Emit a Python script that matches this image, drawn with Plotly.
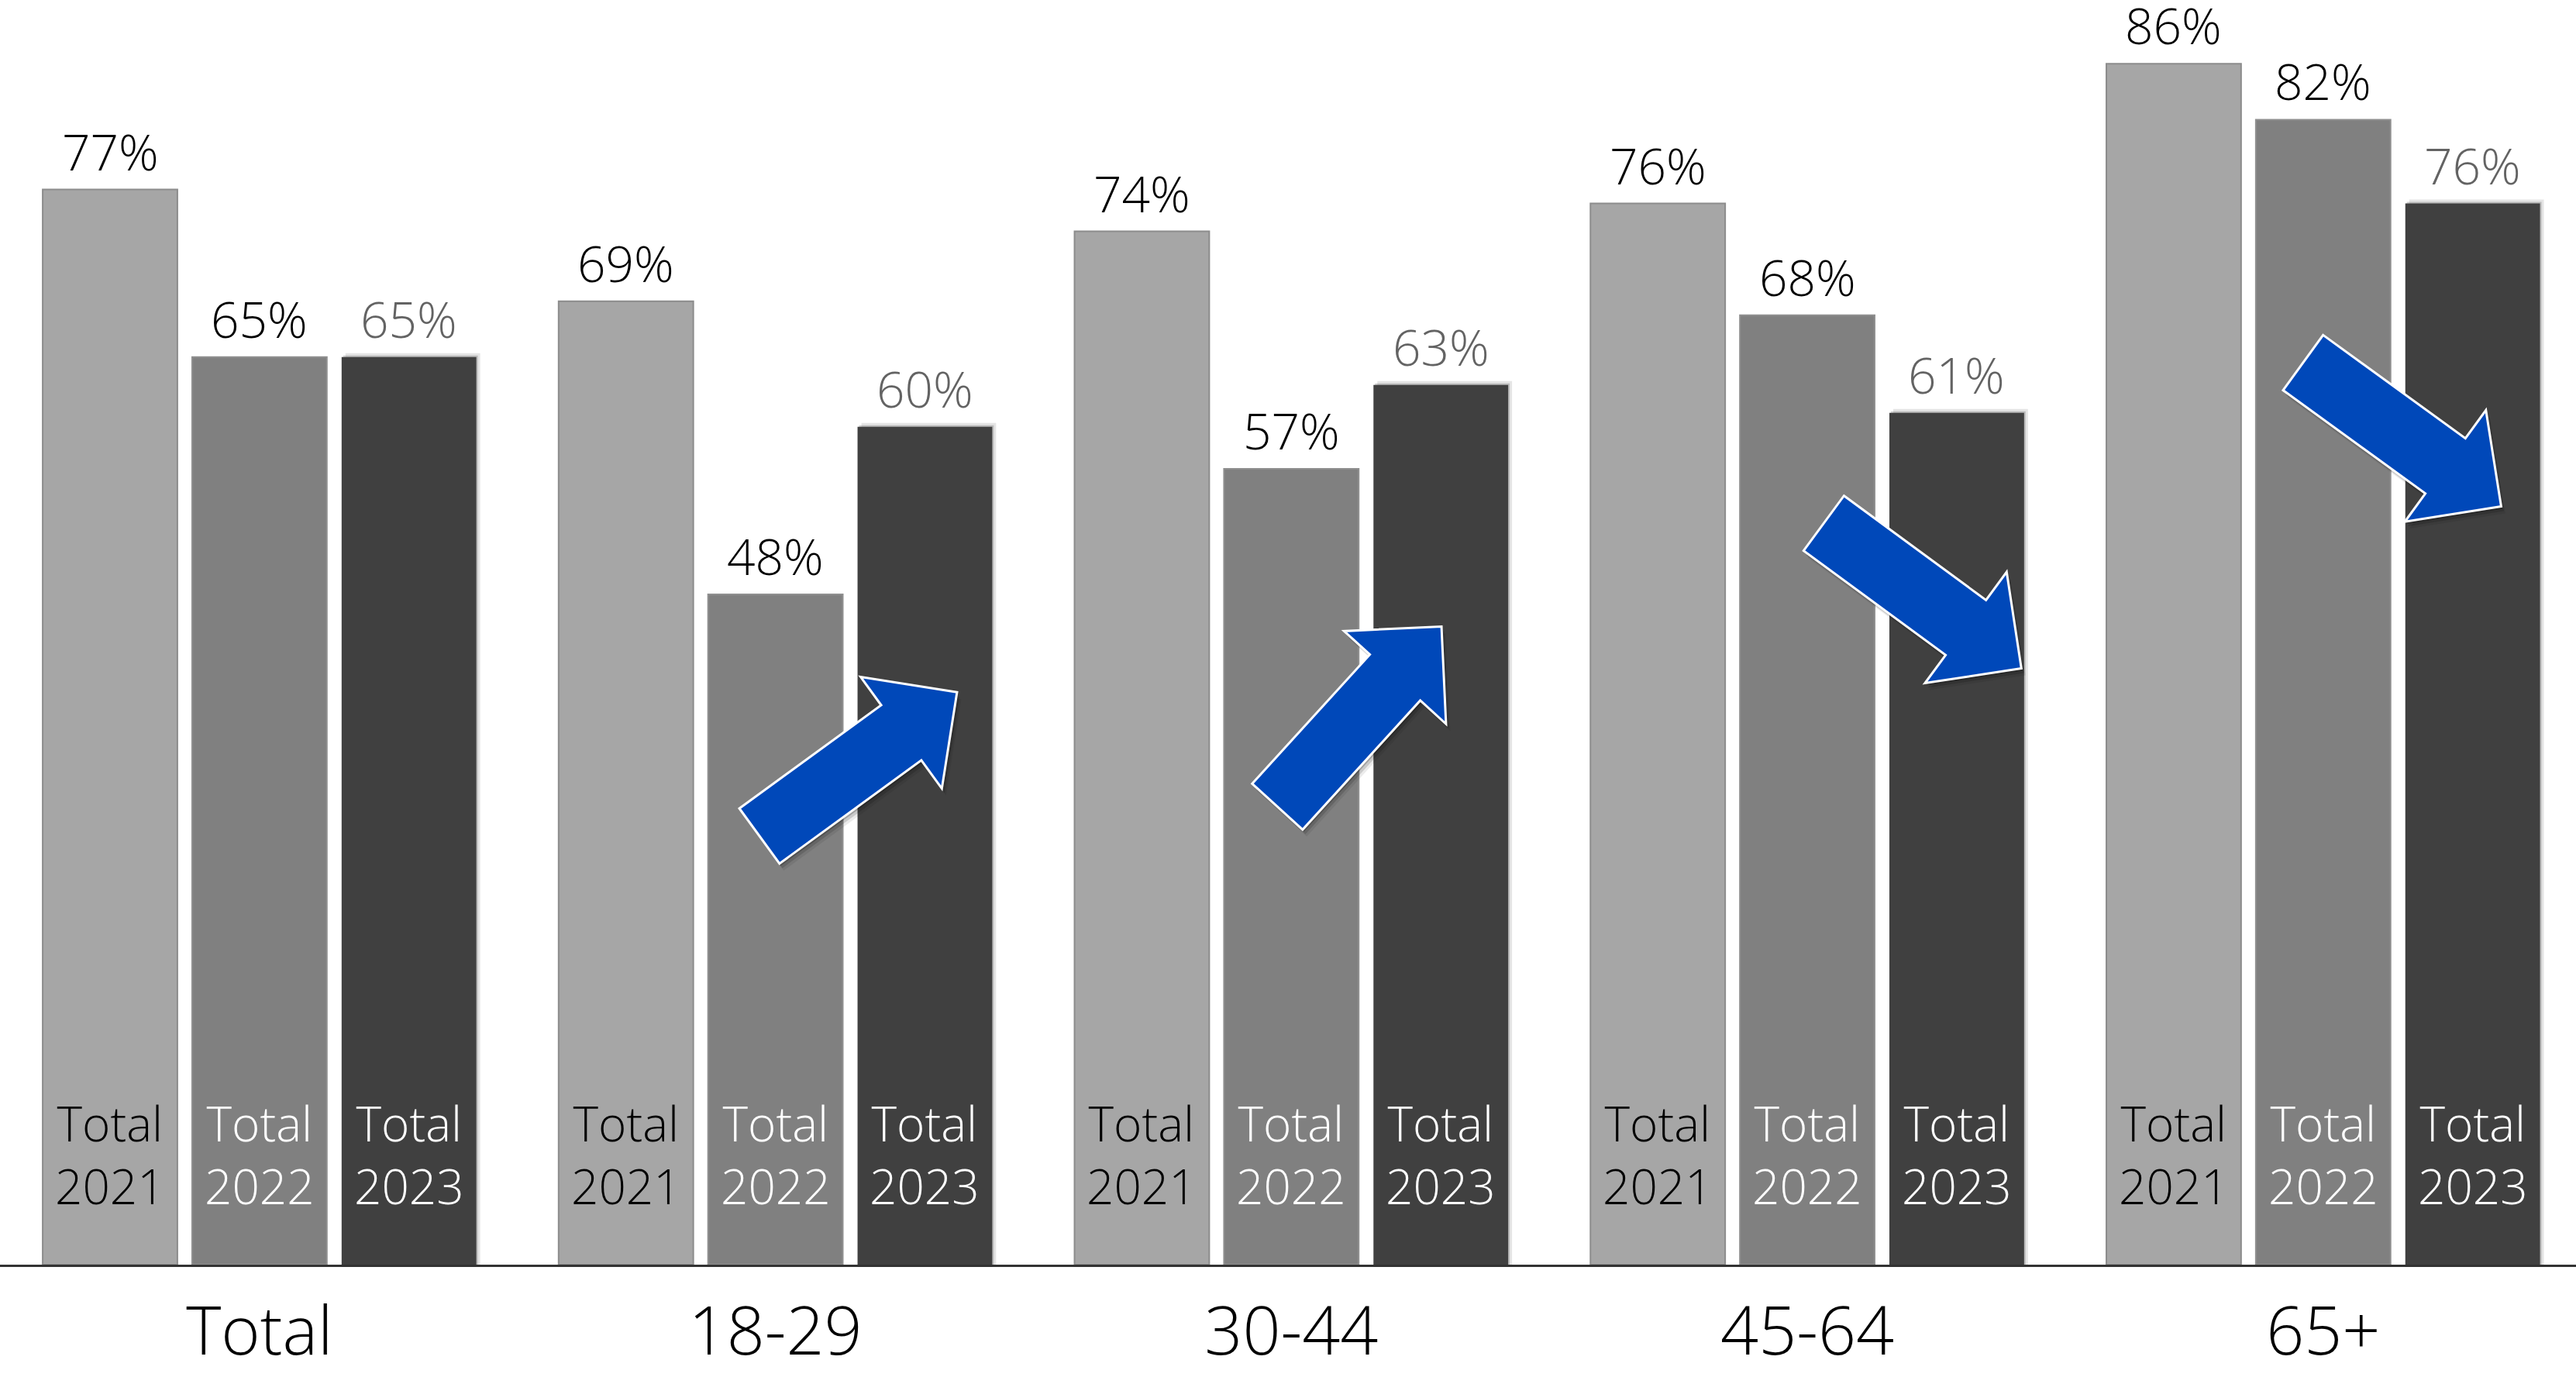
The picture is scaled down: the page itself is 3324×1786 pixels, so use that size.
import plotly.graph_objects as go

# ---- data -------------------------------------------------------------
groups = ["Total", "18-29", "30-44", "45-64", "65+"]
series_names = ["Total 2021", "Total 2022", "Total 2023"]
values_2021 = [77, 69, 74, 76, 86]
values_2022 = [65, 48, 57, 68, 82]
values_2023 = [65, 60, 63, 61, 76]
series_values = [values_2021, values_2022, values_2023]

# ---- styling ----------------------------------------------------------
W, H = 3324, 1786
MARGIN_B = 154
X_RANGE = [-0.503, 4.490]
Y_RANGE = [0, 90.57]
PX_X = W / (X_RANGE[1] - X_RANGE[0])
PX_Y = (H - MARGIN_B) / (Y_RANGE[1] - Y_RANGE[0])

FONT = "Open Sans, Noto Sans, DejaVu Sans, sans-serif"
BAR_W = 0.2611
BAR_STEP = 0.2897
FILLS = ["#a6a6a6", "#808080", "#404040"]
OUTLINES = ["#8c8c8c", "#8f8f8f", "#404040"]
NAME_COLORS = ["#000000", "#ffffff", "#ffffff"]
VALUE_COLORS = ["#000000", "#000000", "#636363"]
ARROW_BLUE = "#0048b9"

# trend arrows: (tail centre, tip) in axis units
ARROWS = [
    ((0.969, 30.7), (1.352, 41.0)),
    ((1.973, 32.8), (2.291, 45.7)),
    ((3.032, 53.1), (3.415, 42.7)),
    ((3.961, 64.6), (4.345, 54.3)),
]
SHAFT_PX, HEAD_W_PX, HEAD_L_PX = 88, 178, 89

xs = list(range(len(groups)))

fig = go.Figure()
shapes = []
annotations = []

for i, (name, vals) in enumerate(zip(series_names, series_values)):
    centre = (i - 1) * BAR_STEP
    fig.add_trace(go.Bar(
        x=xs, y=vals, name=name,
        width=BAR_W, offset=centre - BAR_W / 2,
        marker=dict(color=FILLS[i], line=dict(color=OUTLINES[i], width=2 if i < 2 else 0)),
        showlegend=False, hoverinfo="skip",
    ))
    for g, v in zip(xs, vals):
        # value label above each bar
        annotations.append(dict(
            x=g + centre, y=v, xref="x", yref="y", text=f"{v}%",
            showarrow=False, yanchor="bottom", yshift=4,
            font=dict(family=FONT, size=64, color=VALUE_COLORS[i], weight=300),
        ))
        # series name inside the bar
        annotations.append(dict(
            x=g + centre, y=0, xref="x", yref="y",
            text=name.replace(" ", "<br>"),
            showarrow=False, yanchor="bottom", yshift=58,
            font=dict(family=FONT, size=62, color=NAME_COLORS[i], weight=300),
        ))
        if i == 2:
            # soft drop shadow along the dark bars
            for off, op in ((2, 0.18), (5, 0.10)):
                shapes.append(dict(
                    type="rect", xref="x", yref="y", layer="below",
                    x0=g + centre - BAR_W / 2 + off / PX_X, x1=g + centre + BAR_W / 2 + off / PX_X,
                    y0=0, y1=v + off / PX_Y,
                    fillcolor=f"rgba(0,0,0,{op})", line=dict(width=0),
                ))


def arrow_path(tail, tip, dx=0.0, dy=0.0):
    tx, ty = tail[0] * PX_X, tail[1] * PX_Y
    hx, hy = tip[0] * PX_X, tip[1] * PX_Y
    L = ((hx - tx) ** 2 + (hy - ty) ** 2) ** 0.5
    ux, uy = (hx - tx) / L, (hy - ty) / L
    nx, ny = -uy, ux
    bx, by = hx - ux * HEAD_L_PX, hy - uy * HEAD_L_PX
    s, h = SHAFT_PX / 2, HEAD_W_PX / 2
    pts = [
        (tx + nx * s, ty + ny * s),
        (bx + nx * s, by + ny * s),
        (bx + nx * h, by + ny * h),
        (hx, hy),
        (bx - nx * h, by - ny * h),
        (bx - nx * s, by - ny * s),
        (tx - nx * s, ty - ny * s),
    ]
    pts = [((px + dx) / PX_X, (py - dy) / PX_Y) for px, py in pts]
    return "M " + " L ".join(f"{x:.5f},{y:.4f}" for x, y in pts) + " Z"


for tail, tip in ARROWS:
    for off, op in ((9, 0.08), (6, 0.14), (3, 0.2)):
        shapes.append(dict(
            type="path", xref="x", yref="y", layer="above",
            path=arrow_path(tail, tip, off * 0.6, off),
            fillcolor=f"rgba(0,0,0,{op})", line=dict(width=0),
        ))
    shapes.append(dict(
        type="path", xref="x", yref="y", layer="above",
        path=arrow_path(tail, tip),
        fillcolor=ARROW_BLUE, line=dict(color="#ffffff", width=3),
    ))

fig.update_layout(
    width=W, height=H,
    margin=dict(l=0, r=0, t=0, b=MARGIN_B, autoexpand=False),
    paper_bgcolor="#ffffff", plot_bgcolor="#ffffff",
    barmode="overlay",
    font=dict(family=FONT, weight=300),
    xaxis=dict(
        range=X_RANGE, tickmode="array", tickvals=xs, ticktext=groups,
        showgrid=False, zeroline=False, showline=True, linecolor="#333333", linewidth=3,
        ticks="", tickfont=dict(family=FONT, size=86, color="#000000", weight=300),
        ticklabelstandoff=10, automargin=False, fixedrange=True,
    ),
    yaxis=dict(range=Y_RANGE, visible=False, fixedrange=True, automargin=False),
    shapes=shapes,
    annotations=annotations,
)

fig.write_html("out.html")
